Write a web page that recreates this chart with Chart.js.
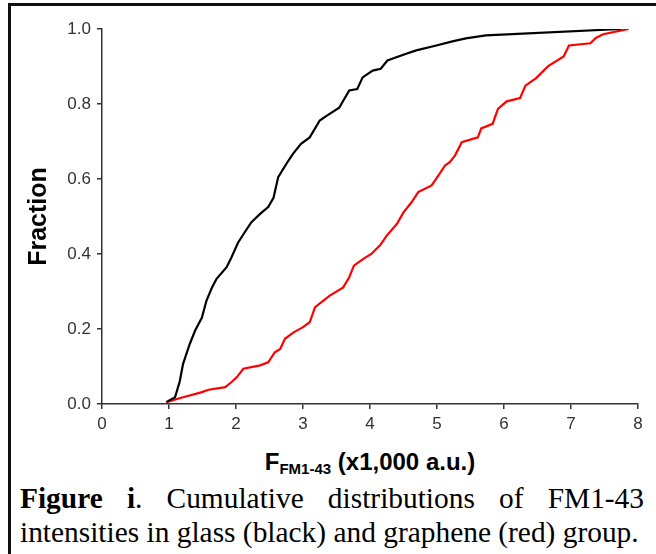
<!DOCTYPE html>
<html>
<head>
<meta charset="utf-8">
<script src="https://cdn.jsdelivr.net/npm/chart.js@4/dist/chart.umd.min.js"></script>
<style>
  html, body { margin: 0; padding: 0; background: #fff; }
  body { width: 656px; height: 554px; position: relative; overflow: hidden; }
  #frame {
    position: absolute; left: 8px; top: 3px; width: 700px; height: 600px;
    border-left: 3px solid #111; border-top: 3px solid #111;
  }
  #wrap { position: absolute; left: 0; top: 0; width: 656px; height: 440px; }
  #xTitle {
    position: absolute; left: 102px; width: 536px; top: 450px;
    text-align: center; font: bold 24px "Liberation Sans", Arial, sans-serif;
    line-height: 24px; color: #000; white-space: nowrap;
  }
  #xTitle sub { font-size: 15px; vertical-align: -4px; line-height: 0; }
  .cap {
    position: absolute; left: 20px; width: 624px;
    font: 29.4px "Liberation Serif", "Times New Roman", serif;
    line-height: 34px; color: #000; white-space: nowrap;
  }
  #cap1 { top: 481px; text-align: justify; text-align-last: justify; }
  #cap2 { top: 515px; }
</style>
</head>
<body>
<div id="frame"></div>
<div id="wrap"><canvas id="cdfChart" width="656" height="440"></canvas></div>
<div id="xTitle">F<sub>FM1-43</sub> (x1,000 a.u.)</div>
<div class="cap" id="cap1"><b>Figure i</b>. Cumulative distributions of FM1-43</div>
<div class="cap" id="cap2">intensities in glass (black) and graphene (red) group.</div>

<script>
'use strict';

// ── DATA ─────────────────────────────────────────────────────────
var xTicks = [0, 1, 2, 3, 4, 5, 6, 7, 8];
var yTicks = [0.0, 0.2, 0.4, 0.6, 0.8, 1.0];

// glass (hitam)
var glassX = [0.96, 1.09, 1.16, 1.21, 1.31, 1.39, 1.49, 1.56, 1.64, 1.71,
              1.86, 1.93, 2.03, 2.13, 2.23, 2.36, 2.48, 2.56, 2.63, 2.75,
              2.85, 2.97, 3.10, 3.25, 3.34, 3.54, 3.69, 3.81, 3.89, 4.04,
              4.16, 4.26, 4.54, 4.69, 4.99, 5.23, 5.43, 5.73, 7.75];
var glassF = [0.005, 0.018, 0.06, 0.107, 0.16, 0.196, 0.23, 0.276, 0.31, 0.334,
              0.365, 0.39, 0.43, 0.458, 0.485, 0.507, 0.525, 0.55, 0.605, 0.64,
              0.667, 0.694, 0.711, 0.756, 0.767, 0.79, 0.836, 0.84, 0.871, 0.889,
              0.894, 0.916, 0.934, 0.943, 0.956, 0.967, 0.975, 0.983, 1.0];

// graphene (merah)
var grapheneX = [0.96, 1.21, 1.48, 1.59, 1.84, 1.93, 2.01, 2.11, 2.36, 2.48,
                 2.58, 2.66, 2.73, 2.86, 3.00, 3.10, 3.18, 3.40, 3.60, 3.69,
                 3.76, 3.90, 4.02, 4.15, 4.25, 4.40, 4.50, 4.62, 4.72, 4.92,
                 5.02, 5.12, 5.19, 5.27, 5.37, 5.61, 5.66, 5.83, 5.91, 6.04,
                 6.24, 6.32, 6.48, 6.66, 6.89, 6.97, 7.29, 7.37, 7.48, 7.86];
var grapheneF = [0.005, 0.018, 0.031, 0.038, 0.045, 0.058, 0.071, 0.094, 0.103, 0.111,
                 0.138, 0.147, 0.174, 0.191, 0.205, 0.218, 0.258, 0.289, 0.311, 0.338,
                 0.369, 0.387, 0.40, 0.423, 0.449, 0.48, 0.511, 0.538, 0.565, 0.583,
                 0.609, 0.636, 0.645, 0.663, 0.698, 0.711, 0.735, 0.747, 0.787, 0.807,
                 0.816, 0.849, 0.869, 0.901, 0.927, 0.956, 0.962, 0.976, 0.986, 1.0];

// ── HELPER ───────────────────────────────────────────────────────
function toPoints(xs, ys) {
  return xs.map(function (x, i) { return { x: x, y: ys[i] }; });
}

var AXIS_COLOR = '#333';
var TICK_FONT  = { family: 'Liberation Sans, Arial, sans-serif', size: 17 };

// ── CHART ────────────────────────────────────────────────────────
var ctx = document.getElementById('cdfChart').getContext('2d');

new Chart(ctx, {
  type: 'scatter',
  data: {
    datasets: [
      {
        label: 'glass',
        data: toPoints(glassX, glassF),
        showLine: true,
        borderColor: '#000',
        borderWidth: 2.2,
        pointRadius: 0,
        tension: 0
      },
      {
        label: 'graphene',
        data: toPoints(grapheneX, grapheneF),
        showLine: true,
        borderColor: '#f00',
        borderWidth: 2.2,
        pointRadius: 0,
        tension: 0
      }
    ]
  },
  options: {
    responsive: false,
    animation: false,
    layout: { padding: { left: 0, top: 29, right: 18, bottom: 0 } },
    plugins: { legend: { display: false }, tooltip: { enabled: false } },
    scales: {
      x: {
        type: 'linear',
        min: xTicks[0],
        max: xTicks[xTicks.length - 1],
        afterBuildTicks: function (scale) {
          scale.ticks = xTicks.map(function (v) { return { value: v }; });
        },
        afterFit: function (scale) { scale.height = 36; },
        grid: { drawOnChartArea: false, tickLength: 5, color: AXIS_COLOR, lineWidth: 1.5 },
        border: { display: true, color: AXIS_COLOR, width: 1.5 },
        ticks: {
          color: AXIS_COLOR, font: TICK_FONT, padding: 5, maxRotation: 0,
          callback: function (v) { return String(v); }
        }
      },
      y: {
        type: 'linear',
        min: yTicks[0],
        max: yTicks[yTicks.length - 1],
        afterBuildTicks: function (scale) {
          scale.ticks = yTicks.map(function (v) { return { value: v }; });
        },
        afterFit: function (scale) { scale.width = 102; },
        grid: { drawOnChartArea: false, tickLength: 5, color: AXIS_COLOR, lineWidth: 1.5 },
        border: { display: true, color: AXIS_COLOR, width: 1.5 },
        ticks: {
          color: AXIS_COLOR, font: TICK_FONT, padding: 6,
          callback: function (v) { return Number(v).toFixed(1); }
        },
        title: {
          display: true,
          text: 'Fraction',
          color: '#000',
          font: { family: 'Liberation Sans, Arial, sans-serif', size: 25, weight: 'bold' },
          padding: { top: 24, bottom: 0 }
        }
      }
    }
  }
});
</script>
</body>
</html>
